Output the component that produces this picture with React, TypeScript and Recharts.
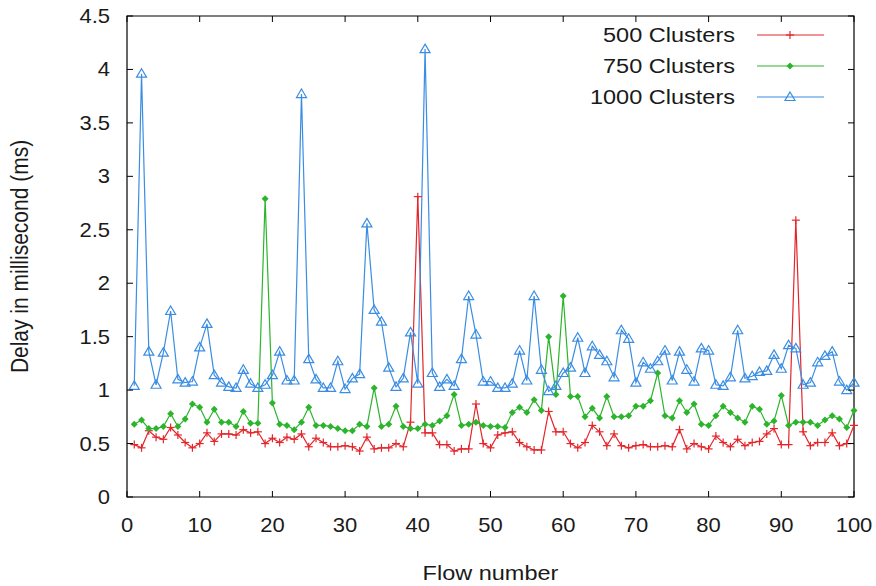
import { LineChart, Line, XAxis, YAxis, ReferenceArea } from "recharts";

const flows = Array.from({ length: 100 }, (_, i) => i + 1);

const clusters500 = [
  0.49, 0.46, 0.62, 0.56, 0.54, 0.65, 0.58, 0.51, 0.46, 0.5,
  0.6, 0.52, 0.59, 0.59, 0.58, 0.63, 0.6, 0.61, 0.5, 0.55,
  0.51, 0.56, 0.54, 0.59, 0.47, 0.55, 0.51, 0.47, 0.47, 0.48,
  0.47, 0.43, 0.56, 0.45, 0.46, 0.46, 0.5, 0.47, 0.7, 2.81,
  0.6, 0.6, 0.49, 0.49, 0.43, 0.45, 0.45, 0.87, 0.5, 0.46,
  0.58, 0.6, 0.61, 0.51, 0.47, 0.44, 0.44, 0.8, 0.61, 0.61,
  0.5, 0.46, 0.51, 0.67, 0.61, 0.48, 0.59, 0.48, 0.46, 0.48,
  0.49, 0.47, 0.47, 0.48, 0.47, 0.63, 0.45, 0.5, 0.47, 0.45,
  0.57, 0.51, 0.47, 0.54, 0.48, 0.51, 0.52, 0.59, 0.64, 0.49,
  0.49, 2.59, 0.61, 0.48, 0.51, 0.51, 0.6, 0.48, 0.5, 0.67,
];

const clusters750 = [
  0.68, 0.72, 0.64, 0.64, 0.66, 0.78, 0.66, 0.73, 0.87, 0.84,
  0.7, 0.82, 0.7, 0.7, 0.66, 0.8, 0.69, 0.69, 2.79, 0.88,
  0.68, 0.67, 0.63, 0.7, 0.84, 0.67, 0.67, 0.66, 0.64, 0.62,
  0.62, 0.68, 0.66, 1.02, 0.66, 0.68, 0.85, 0.66, 0.64, 0.64,
  0.68, 0.67, 0.71, 0.76, 0.96, 0.67, 0.68, 0.7, 0.67, 0.66,
  0.66, 0.65, 0.79, 0.84, 0.79, 0.91, 0.81, 1.5, 0.96, 1.88,
  0.94, 0.94, 0.75, 0.83, 0.74, 0.94, 0.75, 0.75, 0.76, 0.85,
  0.85, 0.9, 1.16, 0.76, 0.74, 0.9, 0.79, 0.87, 0.68, 0.67,
  0.76, 0.85, 0.79, 0.74, 0.7, 0.85, 0.82, 0.68, 0.71, 0.95,
  0.67, 0.7, 0.7, 0.7, 0.67, 0.72, 0.76, 0.73, 0.65, 0.81,
];

const clusters1000 = [
  1.04, 3.96, 1.36, 1.05, 1.35, 1.74, 1.1, 1.07, 1.08, 1.4,
  1.62, 1.14, 1.07, 1.03, 1.02, 1.19, 1.06, 1.02, 1.05, 1.14,
  1.36, 1.09, 1.09, 3.77, 1.29, 1.1, 1.02, 1.02, 1.27, 1.01,
  1.11, 1.15, 2.56, 1.75, 1.64, 1.21, 1.03, 1.11, 1.54, 1.06,
  4.19, 1.16, 1.03, 1.1, 1.04, 1.29, 1.88, 1.52, 1.08, 1.08,
  1.02, 1.02, 1.06, 1.37, 1.09, 1.88, 1.19, 0.99, 1.04, 1.16,
  1.21, 1.49, 1.16, 1.41, 1.33, 1.27, 1.12, 1.56, 1.48, 1.07,
  1.26, 1.2, 1.27, 1.37, 1.09, 1.36, 1.19, 1.08, 1.39, 1.37,
  1.05, 1.04, 1.12, 1.56, 1.11, 1.13, 1.17, 1.18, 1.33, 1.2,
  1.42, 1.39, 1.05, 1.07, 1.26, 1.32, 1.36, 1.08, 1.0, 1.07,
];

const xTicks = [0, 10, 20, 30, 40, 50, 60, 70, 80, 90, 100];
const yTicks = [0, 0.5, 1, 1.5, 2, 2.5, 3, 3.5, 4, 4.5];

const seriesNames = ["500 Clusters", "750 Clusters", "1000 Clusters"];

const data = flows.map((flow, i) => ({
  flow,
  c500: clusters500[i],
  c750: clusters750[i],
  c1000: clusters1000[i],
}));

// plot box (gnuplot style frame)
const W = 876;
const H = 586;
const LEFT = 127;
const RIGHT = 854;
const TOP = 16;
const BOTTOM = 497;
const TICK = 6;

const RED = "#e3262b";
const GREEN = "#2cb52c";
const BLUE = "#3a8de3";
const FONT = "'Liberation Sans', Arial, sans-serif";
const TEXT = "#1a1a1a";
// the source image is a bit stretched sideways, so text is too
const SX = 1.12;

const Txt = ({ x, y, anchor = "start", size = 21, sx = SX, children }: any) => (
  <text
    transform={`translate(${x},${y}) scale(${sx},1)`}
    textAnchor={anchor}
    fontSize={size}
    fontFamily={FONT}
    fill={TEXT}
  >
    {children}
  </text>
);

const Cross = ({ cx, cy }: any) => {
  if (cx == null || cy == null) return null;
  return (
    <g stroke={RED} strokeWidth={1.2}>
      <line x1={cx - 4} y1={cy} x2={cx + 4} y2={cy} />
      <line x1={cx} y1={cy - 4} x2={cx} y2={cy + 4} />
    </g>
  );
};

const Diamond = ({ cx, cy }: any) => {
  if (cx == null || cy == null) return null;
  const r = 3.5;
  return (
    <polygon
      points={`${cx},${cy - r} ${cx + r},${cy} ${cx},${cy + r} ${cx - r},${cy}`}
      fill={GREEN}
    />
  );
};

const Triangle = ({ cx, cy }: any) => {
  if (cx == null || cy == null) return null;
  return (
    <polygon
      points={`${cx},${cy - 5} ${cx + 5},${cy + 3.5} ${cx - 5},${cy + 3.5}`}
      fill="none"
      stroke={BLUE}
      strokeWidth={1.2}
    />
  );
};

const XTick = ({ x, payload }: any) => (
  <g>
    <line x1={x} y1={BOTTOM} x2={x} y2={BOTTOM - TICK} stroke="#000" />
    <line x1={x} y1={TOP} x2={x} y2={TOP + TICK} stroke="#000" />
    <Txt x={x} y={BOTTOM + 35} anchor="middle" size={20} sx={1.1}>
      {payload.value}
    </Txt>
  </g>
);

const YTick = ({ y, payload }: any) => (
  <g>
    <line x1={LEFT} y1={y} x2={LEFT + TICK} y2={y} stroke="#000" />
    <line x1={RIGHT} y1={y} x2={RIGHT - TICK} y2={y} stroke="#000" />
    <Txt x={110} y={y + 7} anchor="end" size={20} sx={1.1}>
      {payload.value}
    </Txt>
  </g>
);

const legendRows = [
  { name: seriesNames[0], color: RED, Mark: Cross },
  { name: seriesNames[1], color: GREEN, Mark: Diamond },
  { name: seriesNames[2], color: BLUE, Mark: Triangle },
];

export default function App() {
  return (
    <div style={{ position: "absolute", left: 0, top: 0, width: W, height: H, background: "#fff" }}>
      <LineChart
        width={W}
        height={H}
        data={data}
        margin={{ top: TOP, right: W - RIGHT, left: 77, bottom: 59 }}
      >
        <XAxis
          dataKey="flow"
          type="number"
          domain={[0, 100]}
          ticks={xTicks}
          interval={0}
          height={30}
          axisLine={false}
          tickLine={false}
          tick={<XTick />}
        />
        <YAxis
          type="number"
          domain={[0, 4.5]}
          ticks={yTicks}
          interval={0}
          width={50}
          axisLine={false}
          tickLine={false}
          tick={<YTick />}
        />
        <ReferenceArea x1={0} x2={100} y1={0} y2={4.5} fill="none" stroke="#000" strokeWidth={1.2} />
        <Line
          dataKey="c500"
          name={seriesNames[0]}
          stroke={RED}
          strokeWidth={1.2}
          dot={<Cross />}
          isAnimationActive={false}
        />
        <Line
          dataKey="c750"
          name={seriesNames[1]}
          stroke={GREEN}
          strokeWidth={1.2}
          dot={<Diamond />}
          isAnimationActive={false}
        />
        <Line
          dataKey="c1000"
          name={seriesNames[2]}
          stroke={BLUE}
          strokeWidth={1.2}
          dot={<Triangle />}
          isAnimationActive={false}
        />
      </LineChart>

      {/* legend + axis titles */}
      <svg
        width={W}
        height={H}
        style={{ position: "absolute", left: 0, top: 0, pointerEvents: "none" }}
      >
        {legendRows.map((r, i) => {
          const y = 35 + i * 31;
          return (
            <g key={r.name}>
              <Txt x={735} y={y + 7} anchor="end">
                {r.name}
              </Txt>
              <line x1={757} y1={y} x2={824} y2={y} stroke={r.color} strokeWidth={1.2} />
              <r.Mark cx={790} cy={y} />
            </g>
          );
        })}
        <Txt x={(LEFT + RIGHT) / 2} y={580} anchor="middle">
          Flow number
        </Txt>
        <text
          transform={`translate(28, ${(TOP + BOTTOM) / 2}) rotate(-90) scale(1, ${SX})`}
          textAnchor="middle"
          fontSize={21}
          fontFamily={FONT}
          fill={TEXT}
        >
          Delay in millisecond (ms)
        </text>
      </svg>
    </div>
  );
}
